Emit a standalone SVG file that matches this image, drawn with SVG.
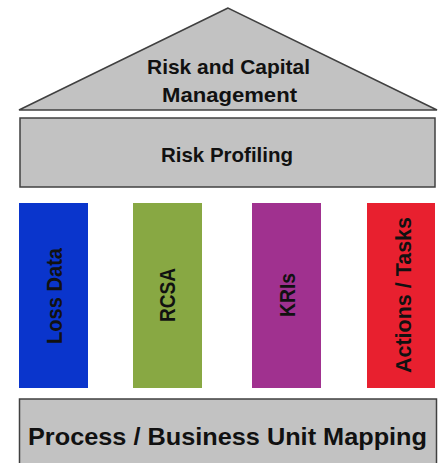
<svg xmlns="http://www.w3.org/2000/svg" width="443" height="463" viewBox="0 0 443 463">
<style>
.gray{fill:#c2c2c2;stroke:#404040;stroke-width:1.5}
.t{font-family:"Liberation Sans",Arial,sans-serif;font-weight:bold;fill:#111;text-anchor:middle}
.v{font-family:"Liberation Sans",Arial,sans-serif;font-weight:bold;fill:#111;text-anchor:middle;font-size:22px}
</style>
<rect width="443" height="463" fill="#ffffff"/>
<g id="roof">
<polygon class="gray" points="228,8 19,110 437,110"/>
<text class="t" x="228.5" y="74" font-size="21" textLength="163" lengthAdjust="spacingAndGlyphs">Risk and Capital</text>
<text class="t" x="229.5" y="102" font-size="21" textLength="135" lengthAdjust="spacingAndGlyphs">Management</text>
</g>
<g id="profiling">
<rect class="gray" x="20" y="118" width="415" height="69"/>
<text class="t" x="227" y="162" font-size="21" textLength="132" lengthAdjust="spacingAndGlyphs">Risk Profiling</text>
</g>
<g id="loss-data">
<rect x="19" y="203" width="69" height="185" fill="#0a35cc"/>
<text class="v" transform="translate(61.5,296) rotate(-90)" textLength="96" lengthAdjust="spacingAndGlyphs">Loss Data</text>
</g>
<g id="rcsa">
<rect x="133" y="203" width="69" height="185" fill="#88a843"/>
<text class="v" transform="translate(174.5,295) rotate(-90)" textLength="54" lengthAdjust="spacingAndGlyphs">RCSA</text>
</g>
<g id="kris">
<rect x="252" y="203" width="69" height="185" fill="#a0318f"/>
<text class="v" transform="translate(294.5,295) rotate(-90)" textLength="44" lengthAdjust="spacingAndGlyphs">KRIs</text>
</g>
<g id="actions">
<rect x="367" y="203" width="68" height="185" fill="#e8202f"/>
<text class="v" transform="translate(410.5,295) rotate(-90)" textLength="156" lengthAdjust="spacingAndGlyphs">Actions / Tasks</text>
</g>
<g id="mapping">
<rect class="gray" x="19.5" y="399" width="417" height="70"/>
<text class="t" x="227.5" y="445" font-size="24" textLength="399" lengthAdjust="spacingAndGlyphs">Process / Business Unit Mapping</text>
</g>
<g id="connectors"></g>
</svg>
